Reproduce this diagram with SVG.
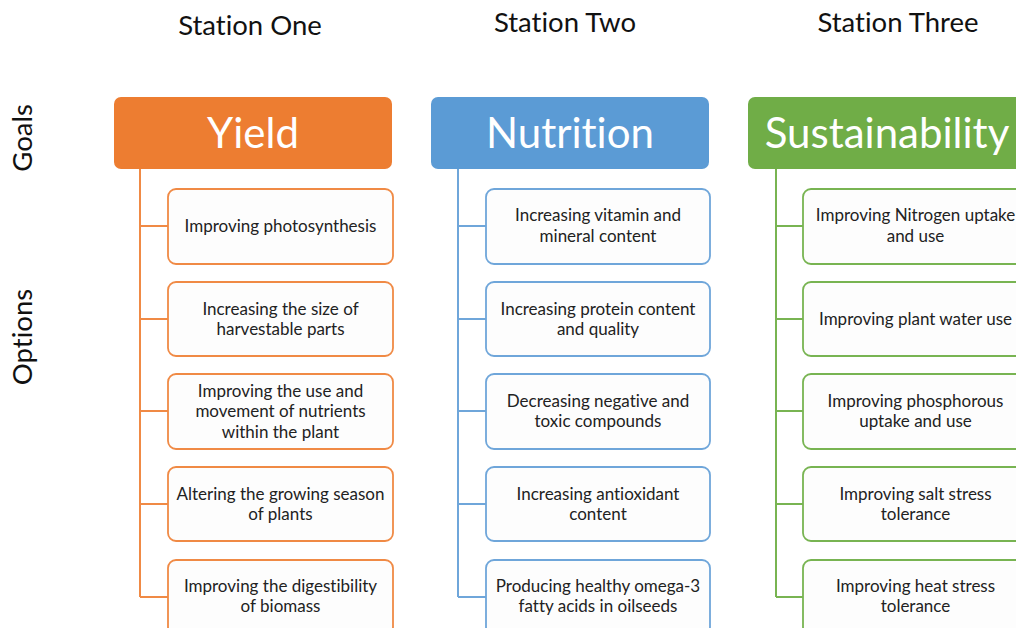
<svg xmlns="http://www.w3.org/2000/svg" width="1016" height="628" viewBox="0 0 1016 628">
<style>
text{font-family:Lato,"Open Sans","Liberation Sans",sans-serif;font-variant-ligatures:none;}
.st{font-size:27.5px;fill:#111;text-anchor:middle;}
.ax{font-size:27.5px;fill:#111;text-anchor:middle;}
.hd{font-size:42px;fill:#fff;text-anchor:middle;}
.op{font-size:17px;fill:#222;text-anchor:middle;}
.ob{fill:#fdfdfd;stroke-width:1.8;}
.o{stroke:#F08A45;}
.b{stroke:#6FA6DA;}
.g{stroke:#78B452;}
.ln{fill:none;stroke-width:2;}
</style>
<rect width="1016" height="628" fill="#fff"/>
<text class="st" x="250" y="35">Station One</text>
<text class="st" x="565" y="32">Station Two</text>
<text class="st" x="898" y="32">Station Three</text>
<text class="ax" transform="translate(32,138) rotate(-90)">Goals</text>
<text class="ax" transform="translate(32,337) rotate(-90)">Options</text>

<g id="connectors">
<path class="ln o" d="M140,169 V597 M140,226 H168 M140,319 H168 M140,411 H168 M140,504 H168 M140,597 H168"/>
<path class="ln b" d="M458,169 V597 M458,226 H486 M458,319 H486 M458,411 H486 M458,504 H486 M458,597 H486"/>
<path class="ln g" d="M776,169 V597 M776,226 H803 M776,319 H803 M776,411 H803 M776,504 H803 M776,597 H803"/>
</g>

<g id="yield"><rect x="114" y="97" width="278" height="72" rx="7" fill="#ED7D31"/><text class="hd" x="253" y="148">Yield</text></g>
<g id="nutrition"><rect x="431" y="97" width="278" height="72" rx="7" fill="#5B9BD5"/><text class="hd" x="570" y="148">Nutrition</text></g>
<g id="sustainability"><rect x="748" y="97" width="278" height="72" rx="7" fill="#70AD47"/><text class="hd" x="887" y="148">Sustainability</text></g>

<g id="y1"><rect class="ob o" x="168" y="189" width="225" height="75" rx="8"/><text class="op" x="280.5" y="232">Improving photosynthesis</text></g>
<g id="y2"><rect class="ob o" x="168" y="282" width="225" height="74" rx="8"/><text class="op" x="280.5" y="315">Increasing the size of</text><text class="op" x="280.5" y="335">harvestable parts</text></g>
<g id="y3"><rect class="ob o" x="168" y="374" width="225" height="75" rx="8"/><text class="op" x="280.5" y="397">Improving the use and</text><text class="op" x="280.5" y="417">movement of nutrients</text><text class="op" x="280.5" y="438">within the plant</text></g>
<g id="y4"><rect class="ob o" x="168" y="467" width="225" height="74" rx="8"/><text class="op" x="280.5" y="500">Altering the growing season</text><text class="op" x="280.5" y="520">of plants</text></g>
<g id="y5"><rect class="ob o" x="168" y="560" width="225" height="75" rx="8"/><text class="op" x="280.5" y="592">Improving the digestibility</text><text class="op" x="280.5" y="612">of biomass</text></g>

<g id="n1"><rect class="ob b" x="486" y="189" width="224" height="75" rx="8"/><text class="op" x="598" y="221">Increasing vitamin and</text><text class="op" x="598" y="242">mineral content</text></g>
<g id="n2"><rect class="ob b" x="486" y="282" width="224" height="74" rx="8"/><text class="op" x="598" y="315">Increasing protein content</text><text class="op" x="598" y="335">and quality</text></g>
<g id="n3"><rect class="ob b" x="486" y="374" width="224" height="75" rx="8"/><text class="op" x="598" y="407">Decreasing negative and</text><text class="op" x="598" y="427">toxic compounds</text></g>
<g id="n4"><rect class="ob b" x="486" y="467" width="224" height="74" rx="8"/><text class="op" x="598" y="500">Increasing antioxidant</text><text class="op" x="598" y="520">content</text></g>
<g id="n5"><rect class="ob b" x="486" y="560" width="224" height="75" rx="8"/><text class="op" x="598" y="592">Producing healthy omega-3</text><text class="op" x="598" y="612">fatty acids in oilseeds</text></g>

<g id="s1"><rect class="ob g" x="803" y="189" width="225" height="75" rx="8"/><text class="op" x="915.5" y="221">Improving Nitrogen uptake</text><text class="op" x="915.5" y="242">and use</text></g>
<g id="s2"><rect class="ob g" x="803" y="282" width="225" height="74" rx="8"/><text class="op" x="915.5" y="325">Improving plant water use</text></g>
<g id="s3"><rect class="ob g" x="803" y="374" width="225" height="75" rx="8"/><text class="op" x="915.5" y="407">Improving phosphorous</text><text class="op" x="915.5" y="427">uptake and use</text></g>
<g id="s4"><rect class="ob g" x="803" y="467" width="225" height="74" rx="8"/><text class="op" x="915.5" y="500">Improving salt stress</text><text class="op" x="915.5" y="520">tolerance</text></g>
<g id="s5"><rect class="ob g" x="803" y="560" width="225" height="75" rx="8"/><text class="op" x="915.5" y="592">Improving heat stress</text><text class="op" x="915.5" y="612">tolerance</text></g>
</svg>
